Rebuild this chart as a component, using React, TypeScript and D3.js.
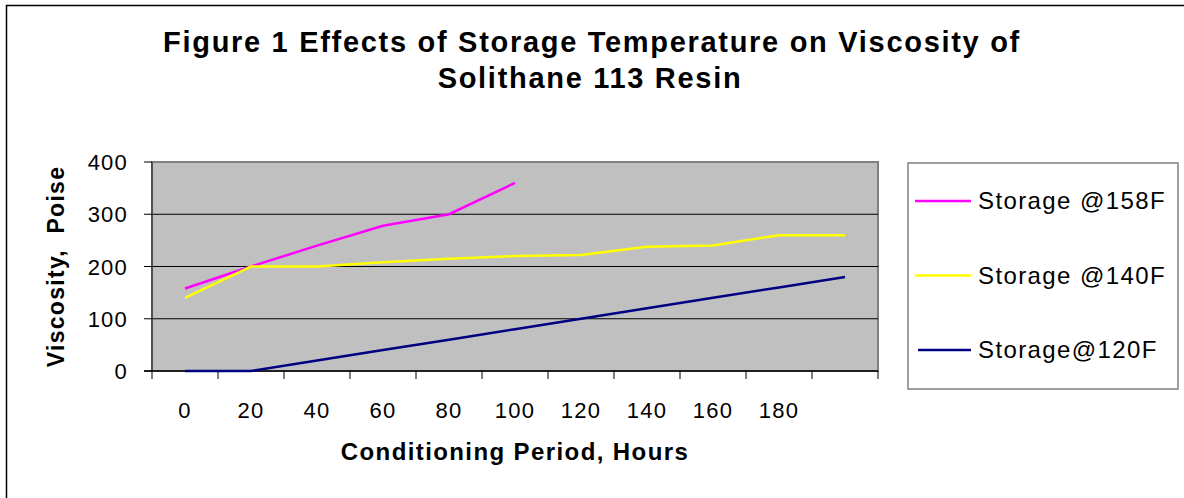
import React from 'react';
import * as d3 from 'd3';

// conditioning period categories (last one has no label)
const hours = [0, 20, 40, 60, 80, 100, 120, 140, 160, 180, 200];
const hourLabels = ['0', '20', '40', '60', '80', '100', '120', '140', '160', '180', ''];
const yTicks = [0, 100, 200, 300, 400];

const storage158 = [158, 200, 240, 278, 300, 360];
const storage140 = [140, 200, 200, 208, 215, 220, 222, 238, 240, 260, 260];
const storage120 = [0, 0, 20, 40, 60, 80, 100, 120, 140, 160, 180];

const seriesNames = ['Storage @158F', 'Storage @140F', 'Storage@120F'];
const seriesColors = ['#FF00FF', '#FFFF00', '#000080'];
const seriesValues = [storage158, storage140, storage120];

const W = 1184;
const H = 498;
const plot = { left: 152, right: 878, top: 162, bottom: 371 };
const FONT = '"Liberation Sans", Arial, sans-serif';

export default function App() {
  const x = d3
    .scaleBand<number>()
    .domain(hours)
    .range([plot.left, plot.right])
    .padding(0);
  const y = d3.scaleLinear().domain([0, 400]).range([plot.bottom, plot.top]);
  const cx = (h: number) => (x(h) ?? 0) + x.bandwidth() / 2;

  const line = d3
    .line<number>()
    .x((_, i) => cx(hours[i]))
    .y((d) => y(d));

  // band boundaries for x tick marks
  const xTickPos = hours.map((h) => x(h) ?? 0).concat([plot.right]);

  return (
    <svg
      width={W}
      height={H}
      style={{ position: 'absolute', left: 0, top: 0, background: '#fff' }}
      fontFamily={FONT}
    >
      {/* outer frame */}
      <path d={`M6.5,${H + 2} L6.5,5.5 L${W + 2},5.5`} fill="none" stroke="#000" strokeWidth={1.5} />

      {/* title */}
      <text x={592} y={52} textAnchor="middle" fontSize={29} fontWeight="bold" letterSpacing={1.7}>
        Figure 1 Effects of Storage Temperature on Viscosity of
      </text>
      <text x={590} y={88} textAnchor="middle" fontSize={29} fontWeight="bold" letterSpacing={1.7}>
        Solithane 113 Resin
      </text>

      {/* plot area */}
      <rect
        x={plot.left}
        y={plot.top}
        width={plot.right - plot.left}
        height={plot.bottom - plot.top}
        fill="#C0C0C0"
        stroke="#808080"
        strokeWidth={2}
      />
      {yTicks.slice(1, -1).map((t) => (
        <line key={t} x1={plot.left} x2={plot.right} y1={y(t)} y2={y(t)} stroke="#000" strokeWidth={1} />
      ))}

      {/* y axis */}
      <line x1={plot.left} x2={plot.left} y1={plot.top} y2={plot.bottom} stroke="#404040" strokeWidth={1.5} />
      {yTicks.map((t) => (
        <g key={t}>
          <line x1={plot.left - 8} x2={plot.left} y1={y(t)} y2={y(t)} stroke="#000" strokeWidth={1} />
          <text x={128} y={y(t) + 8} textAnchor="end" fontSize={22} letterSpacing={1.2}>
            {t}
          </text>
        </g>
      ))}

      {/* x axis */}
      <line x1={plot.left - 8} x2={plot.right} y1={plot.bottom} y2={plot.bottom} stroke="#000" strokeWidth={1.5} />
      {xTickPos.map((p, i) => (
        <line key={i} x1={p} x2={p} y1={plot.bottom} y2={plot.bottom + 8} stroke="#000" strokeWidth={1} />
      ))}
      {hours.map((h, i) => (
        <text key={h} x={cx(h)} y={418} textAnchor="middle" fontSize={22} letterSpacing={1.2}>
          {hourLabels[i]}
        </text>
      ))}

      {/* series */}
      {seriesValues.map((vals, i) => (
        <path key={i} d={line(vals) ?? ''} fill="none" stroke={seriesColors[i]} strokeWidth={2.5} />
      ))}

      {/* axis titles */}
      <text x={515} y={460} textAnchor="middle" fontSize={24} fontWeight="bold" letterSpacing={1.4}>
        Conditioning Period, Hours
      </text>
      <text
        transform={`translate(64,${(plot.top + plot.bottom) / 2}) rotate(-90)`}
        textAnchor="middle"
        fontSize={23}
        fontWeight="bold"
        letterSpacing={1.3}
        style={{ whiteSpace: 'pre' }}
      >
        {'Viscosity,  Poise'}
      </text>

      {/* legend */}
      <rect x={908} y={163} width={270} height={226} fill="#fff" stroke="#808080" strokeWidth={1.5} />
      {seriesNames.map((name, i) => {
        const ly = 201 + i * 74.5;
        return (
          <g key={name}>
            <line x1={i === 2 ? 918 : 915} x2={971} y1={ly} y2={ly} stroke={seriesColors[i]} strokeWidth={2.5} />
            <text x={978} y={ly + 8} fontSize={24} letterSpacing={1.4}>
              {name}
            </text>
          </g>
        );
      })}
    </svg>
  );
}
